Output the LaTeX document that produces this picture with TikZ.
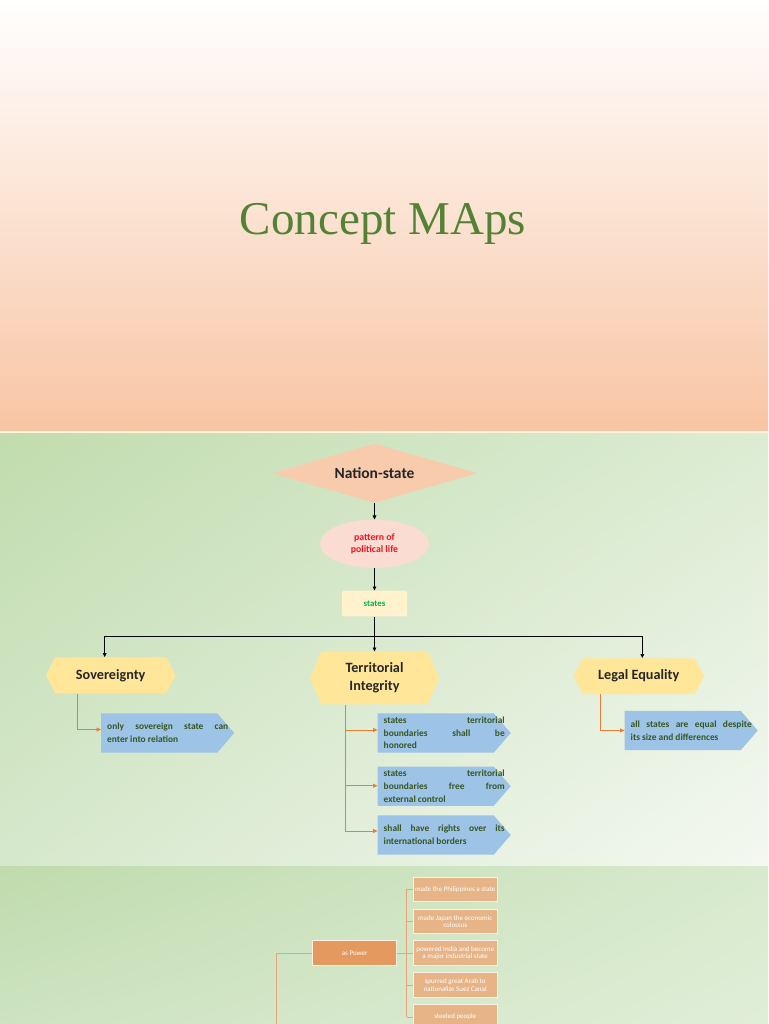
\documentclass[tikz,border=0pt]{standalone}
\usepackage{fontspec}
\setmainfont{Liberation Serif}
\newfontfamily\carl{Carlito}
\usetikzlibrary{shapes.geometric,arrows.meta,shadings}
\definecolor{peachC}{HTML}{F8CBAD}
\definecolor{pinkC}{HTML}{FADCD2}
\definecolor{yellC}{HTML}{FFF2CC}
\definecolor{hexC}{HTML}{FFE699}
\definecolor{blueC}{HTML}{9DC3E6}
\definecolor{bluetxt}{HTML}{375623}
\definecolor{darktxt}{HTML}{262626}
\definecolor{redC}{HTML}{F5141E}
\definecolor{grnC}{HTML}{00B050}
\definecolor{titleC}{HTML}{548235}
\definecolor{orgC}{HTML}{ED7D31}
\definecolor{powC}{HTML}{E4995F}
\definecolor{rboxC}{HTML}{E6B487}
\definecolor{oconC}{HTML}{E9A47C}
\definecolor{bordC}{HTML}{FDF0E2}
\definecolor{sepC}{HTML}{FFF3DC}
\definecolor{topB}{HTML}{F8C5A4}
\definecolor{gAul}{RGB}{193,220,174}
\definecolor{gAur}{RGB}{220,236,211}
\definecolor{gAll}{RGB}{214,232,204}
\definecolor{gAlr}{RGB}{244,248,241}
\definecolor{gBul}{RGB}{192,219,173}
\definecolor{gBur}{RGB}{216,234,206}
\definecolor{gBll}{RGB}{205,227,193}
\definecolor{gBlr}{RGB}{224,238,216}
\tikzset{
  hexbox/.style n args={4}{shape=rectangle, minimum width=#1, minimum height=#2, inner sep=0pt,
    align=center, font=\carl\bfseries\fontsize{14.2}{18}\selectfont, text=darktxt,
    path picture={\fill[#4] (path picture bounding box.west)
      -- ([xshift=#3]path picture bounding box.north west)
      -- ([xshift=-#3]path picture bounding box.north east)
      -- (path picture bounding box.east)
      -- ([xshift=-#3]path picture bounding box.south east)
      -- ([xshift=#3]path picture bounding box.south west) -- cycle;}},
  pent/.style={shape=rectangle, anchor=west, text width=121pt, align=justify,
    inner xsep=6pt, inner ysep=0pt, minimum height=39.4pt,
    font=\carl\bfseries\fontsize{9.4}{12.6}\selectfont, text=bluetxt,
    path picture={\fill[blueC] (path picture bounding box.north west)
      -- ([xshift=-17pt]path picture bounding box.north east)
      -- (path picture bounding box.east)
      -- ([xshift=-17pt]path picture bounding box.south east)
      -- (path picture bounding box.south west) -- cycle;}},
  obox/.style={shape=rectangle, minimum width=84pt, minimum height=24.6pt, inner sep=0.5pt,
    align=center, font=\carl\fontsize{7}{7.6}\selectfont, text=white,
    draw=bordC, line width=1.1pt, fill=#1},
  blk/.style={draw=black, line width=0.7pt},
  blkarr/.style={blk, -{Triangle[length=4pt,width=3.6pt]}},
  oarr/.style={draw=orgC, line width=0.8pt, -{Triangle[length=4.5pt,width=4pt]}},
  ocon/.style={draw=oconC, line width=0.9pt},
}
\begin{document}
\begin{tikzpicture}[x=1pt,y=-1pt]
\useasboundingbox (0,0) rectangle (768,1024);
\clip (0,0) rectangle (768,1024);
% backgrounds
\shade[top color=white, bottom color=topB] (0,0) rectangle (768,431.5);
\fill[sepC] (0,431.3) rectangle (768,433.6);
\shade[upper left=gAul, upper right=gAur, lower left=gAll, lower right=gAlr] (0,433.5) rectangle (768,866);
\shade[upper left=gBul, upper right=gBur, lower left=gBll, lower right=gBlr] (0,866) rectangle (768,1024);

% title
\node[anchor=base, font=\fontsize{47}{50}\selectfont, text=titleC, inner sep=0] (title) at (382.9,235) {Concept MAps};

% top chain
\node[diamond, aspect=3.5, fill=peachC, minimum width=205.6pt, minimum height=59pt, inner sep=0pt,
      font=\carl\bfseries\fontsize{15.5}{18}\selectfont, text=darktxt] (ns) at (374.5,473.2) {Nation-state};
\node[ellipse, fill=pinkC, minimum width=109pt, minimum height=48.3pt, inner sep=0pt, align=center,
      font=\carl\bfseries\fontsize{9.8}{12}\selectfont, text=redC] (pat) at (374.5,543.8) {pattern of\\political life};
\node[rectangle, rounded corners=1.5pt, fill=yellC, minimum width=65.3pt, minimum height=25.6pt, inner sep=0pt,
      font=\carl\bfseries\fontsize{8.8}{10}\selectfont, text=grnC] (st) at (374.5,603.5) {states};

% hexagons
\node[hexbox={129.3pt}{36pt}{9pt}{hexC}] (sov) at (110.7,675.3) {Sovereignty};
\node[hexbox={129.3pt}{52.6pt}{11.5pt}{hexC}] (ter) at (374.5,678) {Territorial\\Integrity};
\node[hexbox={130.7pt}{35.7pt}{9.5pt}{hexC}] (leg) at (638.7,676.2) {Legal Equality};

% blue boxes
\node[pent] (b0) at (101,733) {\rightskip=10pt only sovereign state can\linebreak enter into relation};
\node[pent] (t1) at (377.5,733) {\rightskip=10pt states territorial\linebreak boundaries shall be\linebreak honored};
\node[pent] (t2) at (377.5,786.2) {\rightskip=10pt states territorial\linebreak boundaries free from\linebreak external control};
\node[pent] (t3) at (377.5,835) {\rightskip=10pt shall have rights over its\linebreak international borders};
\node[pent] (b4) at (624.5,730.5) {\rightskip=10pt all states are equal despite\linebreak its size and differences};

% black connectors
\coordinate (barL) at (104.7,636);
\coordinate (barR) at (642.3,636);
\draw[blkarr] (ns.south) -- (pat.north);
\draw[blkarr] (pat.south) -- (st.north);
\draw[blk] (st.south) -- (st.south |- barL);
\draw[blk] (barL) -- (barR);
\draw[blkarr] (barL) -- (barL |- sov.north);
\draw[blkarr] (st.south |- barL) -- (ter.north);
\draw[blkarr] (barR) -- (barR |- leg.north);

% orange connectors
\coordinate (sx) at (77.3,0);
\coordinate (tx) at (345,0);
\coordinate (lx) at (600.7,0);
\coordinate (b0in) at ([yshift=3.5pt]b0.west);
\coordinate (t1in) at ([yshift=3pt]t1.west);
\coordinate (t2in) at ([yshift=0.5pt]t2.west);
\coordinate (t3in) at ([yshift=4pt]t3.west);
\draw[oarr] (sov.south -| sx) |- (b0in);
\draw[oarr] (ter.south -| tx) |- (t3in);
\draw[oarr] (t1in -| tx) -- (t1in);
\draw[oarr] (t2in -| tx) -- (t2in);
\draw[oarr] (leg.south -| lx) |- (b4.west);

% bottom section
\node[obox=powC] (pow) at (354.7,953) {as Power};
\node[obox=rboxC] (r1) at (455.2,889.4) {made the Philippines a state};
\node[obox=rboxC] (r2) at (455.2,921.4) {made Japan the economic\\colossus};
\node[obox=rboxC] (r3) at (455.2,953.2) {powered India and become\\a major industrial state};
\node[obox=rboxC] (r4) at (455.2,985.2) {spurred great Arab to\\nationalize Suez Canal};
\node[obox=rboxC] (r5) at (455.2,1017) {steeled people};
\coordinate (vx) at (406.7,0);
\coordinate (lend) at (276.7,1030);
\draw[ocon] (r1.west -| vx) -- (r5.west -| vx);
\foreach \i in {1,...,5} { \draw[ocon] (r\i.west -| vx) -- (r\i.west); }
\draw[ocon] (pow.east) -- (pow.east -| vx);
\draw[ocon] (pow.west) -| (lend);
\end{tikzpicture}
\end{document}
